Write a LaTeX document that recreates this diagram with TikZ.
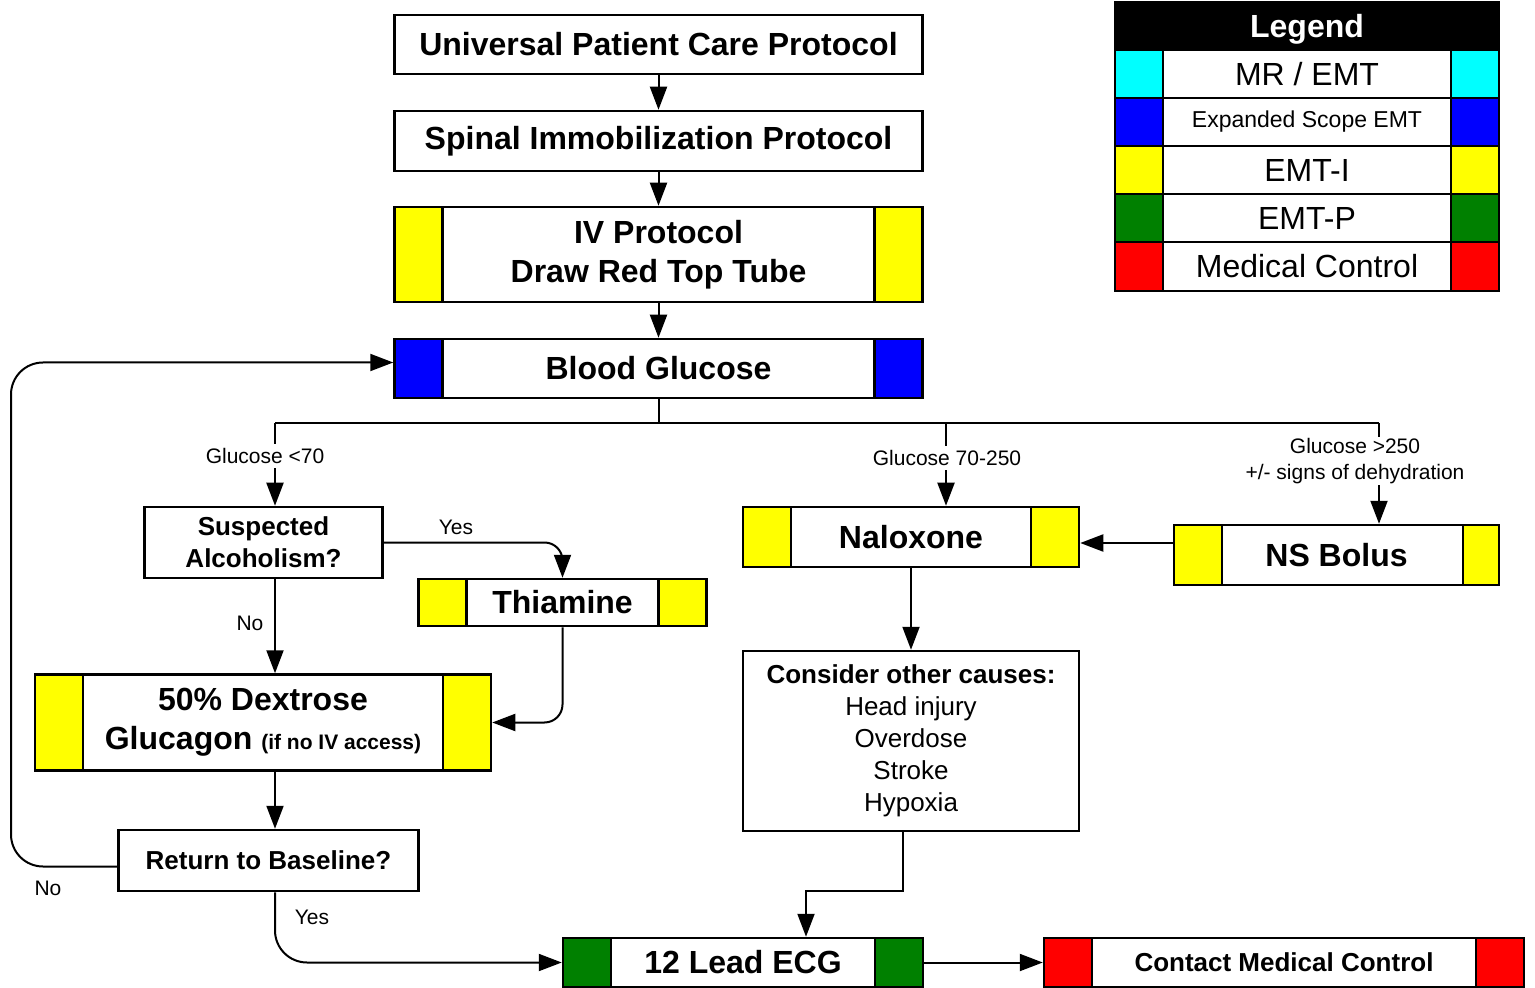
\documentclass[tikz,border=0pt]{standalone}
\usepackage{fontspec}
\setmainfont{Liberation Sans}
\usetikzlibrary{arrows.meta}

\definecolor{lvlmr}{RGB}{0,255,255}
\definecolor{lvlexp}{RGB}{0,0,255}
\definecolor{lvli}{RGB}{255,255,0}
\definecolor{lvlp}{RGB}{0,128,0}
\definecolor{lvlmc}{RGB}{255,0,0}

\newcommand\fbig{\bfseries\fontsize{16}{19.5}\selectfont}
\newcommand\fmid{\bfseries\fontsize{13}{16}\selectfont}
\newcommand\fplain{\fontsize{16}{19.5}\selectfont}
\newcommand\flbl{\fontsize{10.5}{12.6}\selectfont}

\tikzset{
  box/.style={draw, line width=1.25pt, fill=white, align=center, inner sep=0pt},
  lvlb/.style n args={3}{box, path picture={
      \fill[#1] (path picture bounding box.north west) rectangle ([xshift=#2]path picture bounding box.south west);
      \fill[#1] ([xshift=-#3]path picture bounding box.north east) rectangle (path picture bounding box.south east);
      \draw[line width=1.25pt] ([xshift=#2]path picture bounding box.north west) -- ([xshift=#2]path picture bounding box.south west)
        ([xshift=-#3]path picture bounding box.north east) -- ([xshift=-#3]path picture bounding box.south east);
  }},
  lvl/.style={lvlb={#1}{24pt}{24pt}},
  conn/.style={line width=1pt, -{Triangle[length=11.5pt,width=8.5pt]}},
  lbl/.style={font=\flbl, fill=white, inner sep=2pt, align=center},
}

\begin{document}
\begin{tikzpicture}[x=0.5pt,y=-0.5pt]
\useasboundingbox (0,0) rectangle (1535,988);

\node[box, font=\fbig, minimum width=264pt, minimum height=29.5pt] (upc) at (658.5,44.5) {Universal Patient Care Protocol};
\node[box, font=\fbig, minimum width=264pt, minimum height=30pt] (spinal) at (658.5,141) {Spinal Immobilization Protocol};
\node[lvl=lvli, font=\fbig, minimum width=264pt, minimum height=47.5pt] (iv) at (658.5,254.5) {IV Protocol\\Draw Red Top Tube};
\node[lvl=lvlexp, font=\fbig, minimum width=264pt, minimum height=29.5pt] (bg) at (658.5,368.5) {Blood Glucose};

\node[box, font=\fmid, minimum width=119pt, minimum height=35.5pt] (susp) at (263.5,542.5) {Suspected\\Alcoholism?};
\node[lvl=lvli, font=\fbig, minimum width=144pt, minimum height=23.5pt] (thia) at (562.5,602.5) {Thiamine};
\node[lvl=lvli, font=\fbig, minimum width=228pt, minimum height=48pt] (dext) at (263,722.5) {50\% Dextrose\\Glucagon {\fontsize{10.5}{12}\selectfont (if no IV access)}};
\node[box, font=\fmid, minimum width=150pt, minimum height=30.5pt] (ret) at (268.5,860.5) {Return to Baseline?};

\node[lvl=lvli, font=\fbig, minimum width=168pt, minimum height=30pt] (nalox) at (911,537) {Naloxone};
\node[lvlb={lvli}{24pt}{18pt}, font=\fbig, minimum width=162.5pt, minimum height=30pt] (ns) at (1336.5,555) {NS Bolus};
\node[box, font=\fontsize{13}{16}\selectfont, minimum width=168pt, minimum height=90pt] (cons) at (911,741) {\textbf{Consider other causes:}\\Head injury\\Overdose\\Stroke\\Hypoxia};

\node[lvl=lvlp, font=\fbig, minimum width=180pt, minimum height=24.5pt] (ecg) at (743,962.5) {12 Lead ECG};
\node[lvl=lvlmc, font=\fmid, minimum width=240pt, minimum height=24.5pt] (cmc) at (1284,962.5) {Contact Medical Control};

% legend
\node[box, fill=black, text=white, font=\fbig, text depth=0pt, minimum width=192pt, minimum height=24pt] (leg) at (1307,26) {Legend};
\node[lvl=lvlmr, font=\fplain, minimum width=192pt, minimum height=24pt] (legmr) at (1307,74) {MR / EMT};
\node[lvl=lvlexp, font=\fontsize{11.5}{14}\selectfont, minimum width=192pt, minimum height=24pt] (legexp) at (1307,122) {Expanded Scope EMT};
\node[lvl=lvli, font=\fplain, minimum width=192pt, minimum height=24pt] (legi) at (1307,170) {EMT-I};
\node[lvl=lvlp, font=\fplain, minimum width=192pt, minimum height=24pt] (legp) at (1307,218) {EMT-P};
\node[lvl=lvlmc, font=\fplain, minimum width=192pt, minimum height=24.5pt] (legmc) at (1307,266.5) {Medical Control};

\draw[conn] (upc) -- (spinal);
\draw[conn] (spinal) -- (iv);
\draw[conn] (iv) -- (bg);

\coordinate (lane) at (275,0);
\coordinate (loopx) at (11,0);
\coordinate (split) at (658.5,423);
\coordinate (b1) at (275,423);
\coordinate (b2) at (946,423);
\coordinate (b3) at (1379,423);
\draw[line width=1pt] (bg.south) -- (split);
\draw[line width=1pt] (b1) -- (b3);
\draw[conn] (b1) -- (b1 |- susp.north);
\draw[conn] (b2) -- (b2 |- nalox.north);
\draw[conn] (b3) -- (b3 |- ns.north);
\node[lbl] (lowlbl) at (265,456) {Glucose <70};
\node[lbl] (midlbl) at (947,458) {Glucose 70-250};
\node[lbl, inner sep=1pt] (highlbl) at (1355,461) {Glucose >250\\+/- signs of dehydration};

\draw[conn, rounded corners=9pt] (susp.east) -| (thia.north);
\node[font=\flbl] (yes1) at (456,527) {Yes};
\draw[conn] (susp.south -| lane) -- (dext.north -| lane);
\node[font=\flbl] (no1) at (250,623) {No};
\draw[conn, rounded corners=9pt] (thia.south) |- (dext.east);
\draw[conn] (dext.south -| lane) -- (ret.north -| lane);

\draw[conn, rounded corners=16pt] ([yshift=-3pt]ret.west) -| ([yshift=3pt]bg.west -| loopx) -- ([yshift=3pt]bg.west);
\node[font=\flbl] (no2) at (48,888) {No};
\draw[conn, rounded corners=16pt] (ret.south -| lane) |- (ecg.west);
\node[font=\flbl] (yes2) at (312,917) {Yes};

\draw[conn] ([yshift=6pt]ns.west) -- ([yshift=6pt]ns.west -| nalox.east);
\draw[conn] (nalox.south) -- (cons.north);
\coordinate (jog) at (806,891);
\draw[conn] ([xshift=-4pt]cons.south) |- (jog) -- (jog |- ecg.north);
\draw[conn] (ecg.east) -- (cmc.west);

\end{tikzpicture}
\end{document}
